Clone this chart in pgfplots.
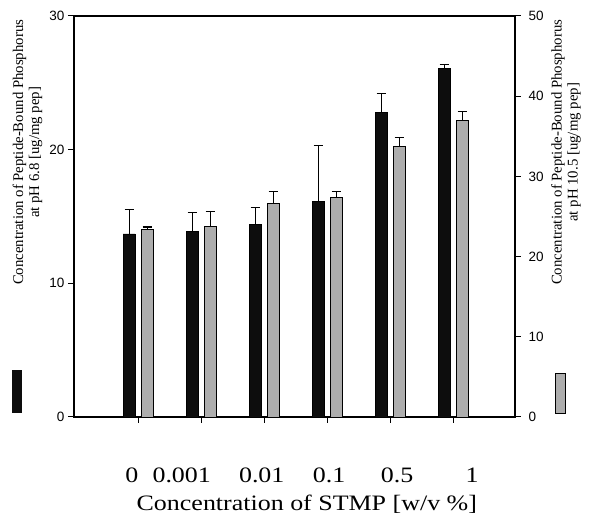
\documentclass[border=0pt]{standalone}
\usepackage{fontspec}
\setmainfont{Liberation Serif}
\newfontfamily\xfont{Liberation Serif}[FakeStretch=1.18]
\newfontfamily\tickfont{Liberation Sans}
\usepackage{pgfplots}
\usepackage{pgfplotstable}
\pgfplotsset{compat=1.18}
\definecolor{barblack}{gray}{0.05}
\definecolor{bargray}{gray}{0.68}

\pgfplotstableread{
x y e
0.845 13.7 1.8
1.845 13.9 1.4
2.845 14.4 1.3
3.845 16.1 4.2
4.845 22.8 1.4
5.845 26.1 0.3
}\blackdata

\pgfplotstableread{
x y e
1.13 23.4 0.3
2.13 23.8 1.8
3.13 26.6 1.5
4.13 27.4 0.7
5.13 33.7 1.2
6.13 37.0 1.1
}\graydata

\begin{document}
\begin{tikzpicture}
\useasboundingbox (-74pt,-107pt) rectangle (516pt,417pt);
\pgfplotsset{
 common/.style={
  scale only axis, width=441pt, height=401pt,
  xmin=-0.03, xmax=6.97, ymin=0,
  axis line style={line width=1.3pt},
  ybar, bar width=12pt,
  /pgf/number format/assume math mode=true,
  yticklabel style={font=\tickfont\fontsize{13.5}{15}\selectfont},
 },
 ebars/.style={error bars/.cd, y dir=plus, y explicit,
  error bar style={line width=0.9pt, black},
  error mark options={rotate=90, mark size=4.5pt, line width=1.2pt, black}},
}
\begin{axis}[common, name=ax1,
  ymax=30, ytick={0,10,20,30}, ytick pos=left,
  xtick={1,2,3,4,5,6}, xticklabels={,,,,,}, xtick pos=bottom,
  tick align=outside, major tick length=6pt,
  tick style={line width=1pt, black},
  extra x ticks={0.89,1.68,2.95,4.02,5.10,6.29},
  extra x tick labels={0,0.001,0.01,0.1,0.5,1},
  extra x tick style={major tick length=0pt},
  xticklabel style={font=\xfont\fontsize{22}{24}\selectfont, anchor=base, yshift=-66pt},
  xlabel={Concentration of STMP [w/v \%]},
  xlabel style={font=\xfont\fontsize{22}{24}\selectfont, at={(rel axis cs:0.528,0)}, anchor=base, yshift=-94pt},
  ylabel={Concentration of Peptide-Bound Phosphorus\\at pH 6.8 [ug/mg pep]},
  ylabel style={font=\fontsize{14.8}{16}\selectfont, align=center, at={(rel axis cs:-0.1054,0.66)}, anchor=center},
]
\addplot[fill=barblack, draw=black, line width=0.6pt, bar shift=0pt, ebars] table[x=x, y=y, y error=e] {\blackdata};
\end{axis}
\begin{axis}[common,
  ymax=50, ytick={0,10,20,30,40,50},
  axis y line*=right, axis x line=none,
  tick align=outside, major tick length=6pt,
  tick style={line width=1pt, black},
  yticklabel style={xshift=4pt},
  ylabel={Concentration of Peptide-Bound Phosphorus\\at pH 10.5 [ug/mg pep]},
  ylabel style={font=\fontsize{14.8}{16}\selectfont, align=center, at={(rel axis cs:1.1156,0.66)}, anchor=center},
]
\addplot[fill=bargray, draw=black, line width=0.6pt, bar shift=0pt, ebars] table[x=x, y=y, y error=e] {\graydata};
\end{axis}
\fill[barblack] ([xshift=-62pt,yshift=4pt]ax1.south west) rectangle ([xshift=-52pt,yshift=47pt]ax1.south west);
\filldraw[fill=bargray, draw=black, line width=0.6pt] ([xshift=481pt,yshift=4pt]ax1.south west) rectangle ([xshift=491pt,yshift=44pt]ax1.south west);
\end{tikzpicture}
\end{document}
